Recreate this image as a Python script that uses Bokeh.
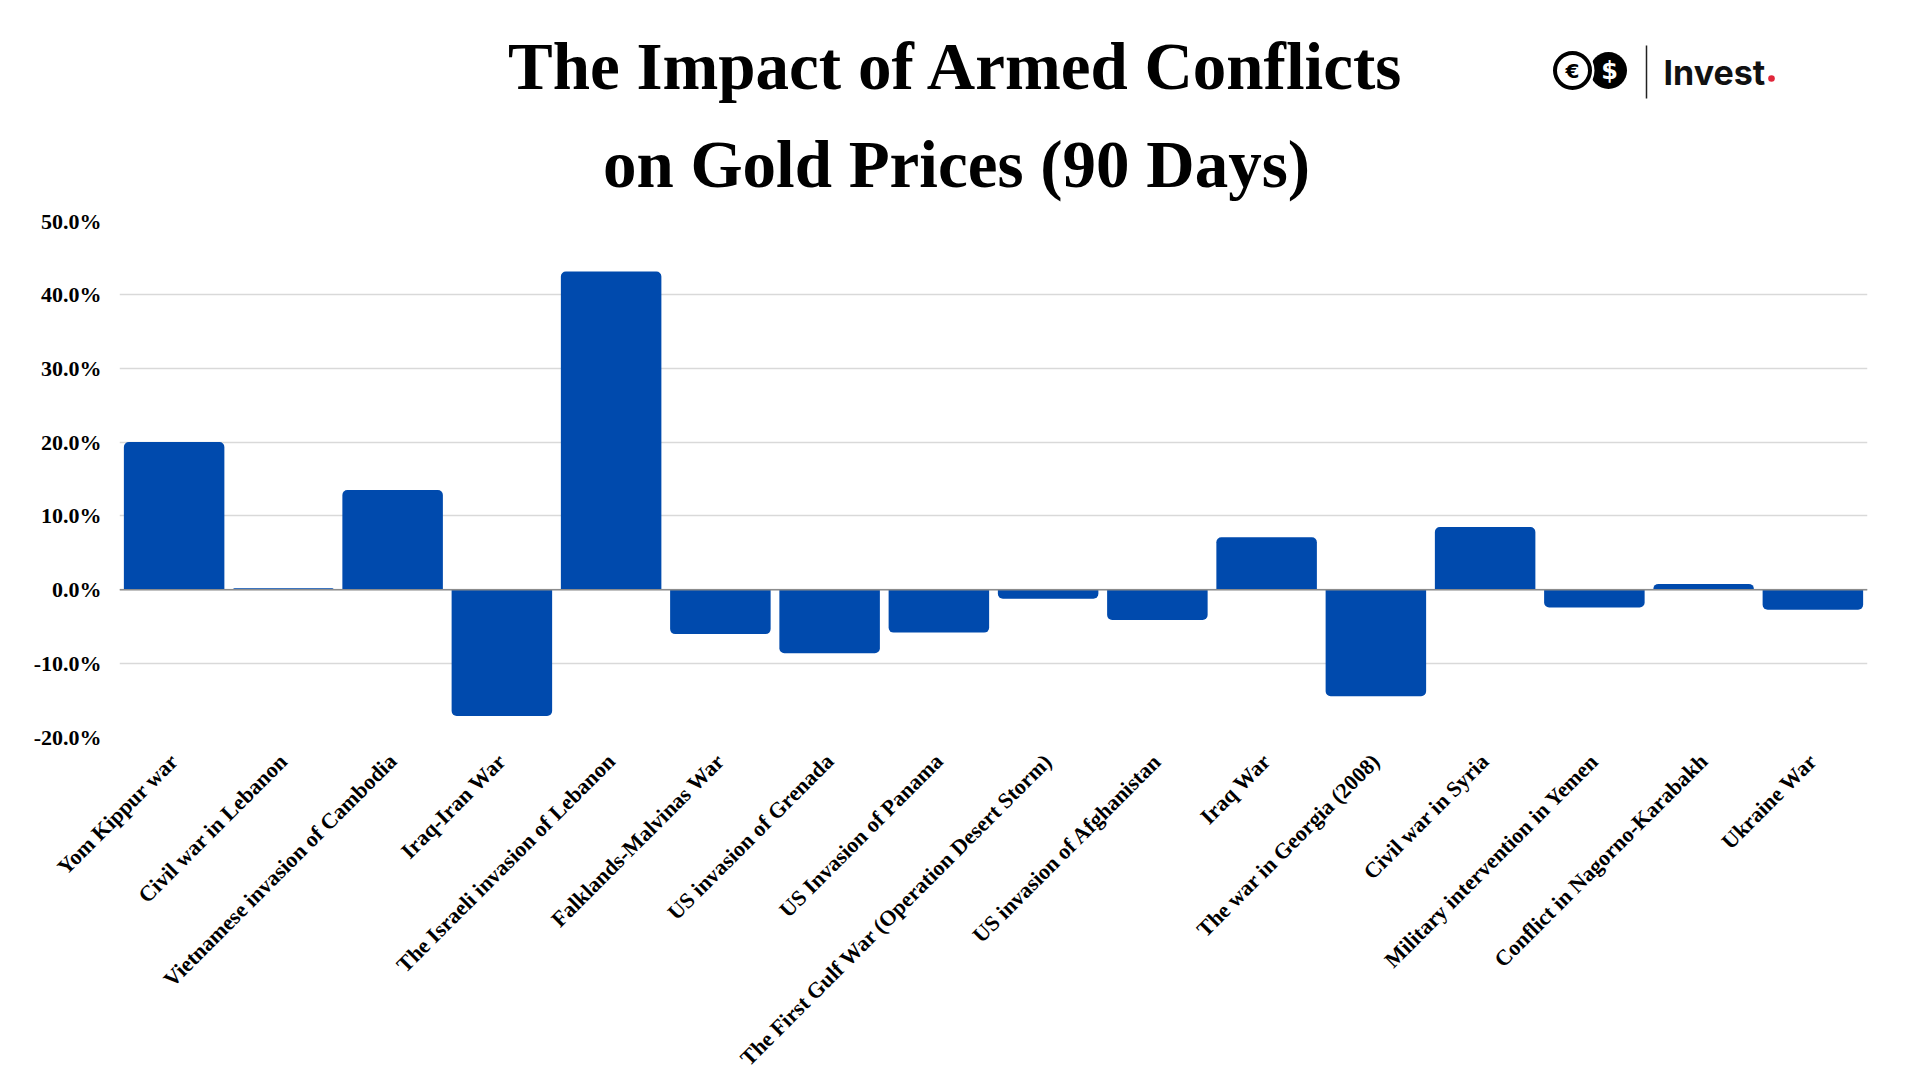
from bokeh.plotting import figure
from bokeh.layouts import column
from bokeh.models import (ColumnDataSource, FactorRange, Range1d, FixedTicker,
                          PrintfTickFormatter, Span)
from bokeh.core.properties import value
from bokeh.embed import file_html
from bokeh.resources import INLINE
import math

# ---------------- data ----------------
conflicts = [
    "Yom Kippur war",
    "Civil war in Lebanon",
    "Vietnamese invasion of Cambodia",
    "Iraq-Iran War",
    "The Israeli invasion of Lebanon",
    "Falklands-Malvinas War",
    "US invasion of Grenada",
    "US Invasion of Panama",
    "The First Gulf War (Operation Desert Storm)",
    "US invasion of Afghanistan",
    "Iraq War",
    "The war in Georgia (2008)",
    "Civil war in Syria",
    "Military intervention in Yemen",
    "Conflict in Nagorno-Karabakh",
    "Ukraine War",
]
gold_change_pct = [20.0, 0.2, 13.5, -17.1, 43.1, -6.0, -8.6, -5.8,
                   -1.2, -4.1, 7.1, -14.4, 8.5, -2.4, 0.8, -2.7]
y_ticks = [-20, -10, 0, 10, 20, 30, 40, 50]
title_lines = ["The Impact of Armed Conflicts", "on Gold Prices (90 Days)"]
brand_text = "Invest"

BAR_COLOR = "#004AAD"
SERIF = value("Liberation Serif")

# layout constants (pixels)
W = 1904
HEADER_H = 208
FRAME_L = 119
FRAME_W = 1748
FRAME_R = W - FRAME_L - FRAME_W

# ---------------- header (title + logo) ----------------
# header frame is aligned by the column layout with the chart frame,
# so its x data range is set to match page pixels.
header = figure(width=W, height=HEADER_H,
                x_range=Range1d(FRAME_L, FRAME_L + FRAME_W), y_range=Range1d(0, HEADER_H),
                x_axis_type=None, y_axis_type=None, toolbar_location=None,
                output_backend="svg", min_border=0,
                min_border_left=FRAME_L, min_border_right=FRAME_R)
header.outline_line_color = None
header.xgrid.visible = False
header.ygrid.visible = False

header.text(x=[956, 956], y=[143, 45], text=title_lines,
            text_font=SERIF, text_font_style="bold", text_font_size="67px",
            text_align="center", text_baseline="alphabetic", text_color="#000000")

# logo: two coins, divider, "Invest."
header.circle(x=[1608], y=[138], radius=18.5, fill_color="#000000", line_color=None)
header.circle(x=[1572], y=[138], radius=22, fill_color="#ffffff", line_color=None)
header.circle(x=[1572], y=[138], radius=19.5, fill_color="#000000", line_color=None)
header.circle(x=[1572], y=[138], radius=15.5, fill_color="#ffffff", line_color=None)
header.text(x=[1572], y=[138], text=["€"], text_font=value("DejaVu Sans"),
            text_font_style="bold", text_font_size="20px", text_align="center",
            text_baseline="middle", text_color="#000000")
header.text(x=[1609], y=[138], text=["$"], text_font=value("DejaVu Sans"),
            text_font_style="bold", text_font_size="24px", text_align="center",
            text_baseline="middle", text_color="#ffffff")
header.segment(x0=[1646], y0=[110], x1=[1646], y1=[163], line_color="#222222", line_width=1.5)
header.text(x=[1663], y=[136], text=[brand_text], text_font=value("Inter"),
            text_font_style="bold", text_font_size="34px", text_align="left",
            text_baseline="alphabetic", text_color="#111111")
header.circle(x=[1771], y=[130], radius=3.3, fill_color="#E0263A", line_color=None)

# ---------------- main bar chart ----------------
src_pos = ColumnDataSource(dict(x=[c for c, v in zip(conflicts, gold_change_pct) if v >= 0],
                                top=[v for v in gold_change_pct if v >= 0]))
src_neg = ColumnDataSource(dict(x=[c for c, v in zip(conflicts, gold_change_pct) if v < 0],
                                bottom=[v for v in gold_change_pct if v < 0]))

p = figure(x_range=FactorRange(*conflicts, range_padding=0),
           y_range=Range1d(y_ticks[0], y_ticks[-1]),
           frame_width=FRAME_W, frame_height=517,
           toolbar_location=None, output_backend="svg",
           min_border_left=FRAME_L, min_border_right=FRAME_R, min_border_top=12,
           min_border_bottom=320)
p.outline_line_color = None

p.vbar(x="x", top="top", bottom=0, width=0.92, source=src_pos,
       fill_color=BAR_COLOR, line_color=None, border_radius=(5, 5, 0, 0))
p.vbar(x="x", top=0, bottom="bottom", width=0.92, source=src_neg,
       fill_color=BAR_COLOR, line_color=None, border_radius=(0, 0, 5, 5))

p.add_layout(Span(location=0, dimension="width", line_color="#8c8c8c", line_width=1.5))

p.xgrid.visible = False
p.ygrid.grid_line_color = "#d9d9d9"
p.ygrid.grid_line_width = 1.3

p.yaxis.ticker = FixedTicker(ticks=y_ticks)
p.yaxis.formatter = PrintfTickFormatter(format="%.1f%%")
p.yaxis.axis_line_color = None
p.yaxis.major_tick_line_color = None
p.yaxis.minor_tick_line_color = None
p.yaxis.major_label_standoff = 12
p.yaxis.major_label_text_font = "Liberation Serif"
p.yaxis.major_label_text_font_style = "bold"
p.yaxis.major_label_text_font_size = "22px"
p.yaxis.major_label_text_color = "#000000"

p.xaxis.axis_line_color = None
p.xaxis.major_tick_line_color = None
p.xaxis.minor_tick_line_color = None
p.xaxis.major_label_orientation = math.pi / 4
p.xaxis.major_label_standoff = 14
p.xaxis.major_label_text_font = "Liberation Serif"
p.xaxis.major_label_text_font_style = "bold"
p.xaxis.major_label_text_font_size = "22px"
p.xaxis.major_label_text_color = "#000000"

layout = column(header, p, spacing=0)

open("out.html", "w").write(file_html(layout, INLINE))
